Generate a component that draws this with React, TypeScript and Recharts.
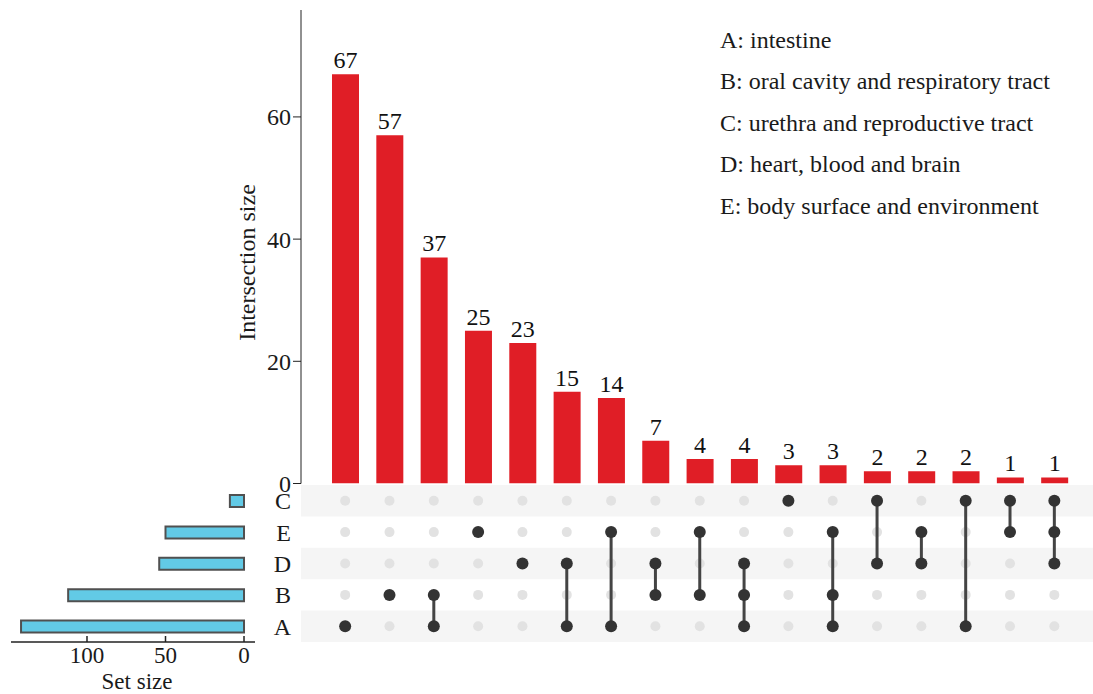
import React from 'react';
import {
  BarChart,
  Bar,
  XAxis,
  YAxis,
  LabelList,
  Label,
  ScatterChart,
  Scatter,
  ReferenceArea,
} from 'recharts';

// ---------- data ----------
const COMBINATIONS = ['A', 'B', 'A&B', 'E', 'D', 'A&D', 'A&E', 'B&D', 'B&E', 'A&B&D', 'C', 'A&B&E', 'C&D', 'D&E', 'A&C', 'C&E', 'C&D&E'];
const INTERSECTION_SIZES = [67, 57, 37, 25, 23, 15, 14, 7, 4, 4, 3, 3, 2, 2, 2, 1, 1];
const SET_ROWS = ['C', 'E', 'D', 'B', 'A']; // top to bottom
const SET_SIZES = [9, 50, 54, 112, 142];
const INTERSECTION_TICKS = [0, 20, 40, 60];
const SET_SIZE_TICKS = [0, 50, 100];
const LEGEND_LABELS = [
  'A: intestine',
  'B: oral cavity and respiratory tract',
  'C: urethra and reproductive tract',
  'D: heart, blood and brain',
  'E: body surface and environment',
];

// ---------- layout / style ----------
const W = 1093;
const H = 694;
const FONT = '"Liberation Serif", "Times New Roman", Times, serif';
const RED = '#e01e26';
const BLUE = '#62cae6';
const PLOT_L = 301;
const PLOT_R = 1093;
const TOP_Y = 10;
const BASE_Y = 483.5;
const MAT_TOP = 485;
const MAT_BOT = 642;
const PAD_L = 22;
const PAD_R = 16.5;
const N = COMBINATIONS.length;
const BAND = (PLOT_R - PLOT_L - PAD_L - PAD_R) / N;
const X_DOMAIN: [number, number] = [-0.5 - PAD_L / BAND, N - 0.5 + PAD_R / BAND];
const SET_AXIS_L = 11;
const SET_AXIS_R = 255;

// bottom-up row index for matrix
const rowIndex = (s: string) => SET_ROWS.length - 1 - SET_ROWS.indexOf(s);

const barData = COMBINATIONS.map((c, i) => ({ combo: c, size: INTERSECTION_SIZES[i] }));
const setData = SET_ROWS.map((s, i) => ({ set: s, size: SET_SIZES[i] }));

const inactivePoints: { x: number; y: number }[] = [];
const activeColumns: { x: number; y: number }[][] = [];
COMBINATIONS.forEach((c, i) => {
  const members = c.split('&');
  SET_ROWS.forEach((s) => {
    if (!members.includes(s)) inactivePoints.push({ x: i, y: rowIndex(s) });
  });
  activeColumns.push(
    members.map((s) => ({ x: i, y: rowIndex(s) })).sort((a, b) => a.y - b.y)
  );
});

const stripeRows = SET_ROWS.map((s) => rowIndex(s)).filter((r) => r % 2 === 0);

const InactiveDot = (props: any) => (
  <circle cx={props.cx} cy={props.cy} r={5} fill="#e2e2e2" />
);
const ActiveDot = (props: any) => (
  <circle cx={props.cx} cy={props.cy} r={6} fill="#333333" />
);

const textStyle = { fontSize: 24, fontFamily: FONT, fill: '#1a1a1a' };
const smallTextStyle = { ...textStyle, fontSize: 23 };

export default function App() {
  return (
    <div style={{ position: 'absolute', left: 0, top: 0, width: W, height: H, background: '#fff', overflow: 'hidden' }}>
      {/* Intersection size bars */}
      <div style={{ position: 'absolute', left: 0, top: 0 }}>
        <BarChart
          width={W}
          height={H}
          data={barData}
          margin={{ top: TOP_Y, right: W - PLOT_R, bottom: H - BASE_Y, left: PLOT_L - 60 }}
        >
          <XAxis
            dataKey="combo"
            type="category"
            padding={{ left: PAD_L, right: PAD_R }}
            tick={false}
            tickLine={false}
            axisLine={{ stroke: '#444', strokeWidth: 2 }}
            height={0}
          />
          <YAxis
            type="number"
            domain={[0, 77.5]}
            ticks={INTERSECTION_TICKS}
            interval={0}
            allowDataOverflow
            width={60}
            tickSize={8}
            tickMargin={2}
            tick={textStyle}
            axisLine={{ stroke: '#222', strokeWidth: 1 }}
            tickLine={{ stroke: '#222', strokeWidth: 1 }}
          >
            <Label
              content={() => (
                <text
                  x={255}
                  y={262.5}
                  transform="rotate(-90 255 262.5)"
                  textAnchor="middle"
                  style={textStyle}
                >
                  Intersection size
                </text>
              )}
            />
          </YAxis>
          <Bar dataKey="size" fill={RED} barSize={27} isAnimationActive={false}>
            <LabelList dataKey="size" position="top" offset={6} style={{ ...textStyle, fill: '#111' }} />
          </Bar>
        </BarChart>
      </div>

      {/* Matrix */}
      <div style={{ position: 'absolute', left: 0, top: 0 }}>
        <ScatterChart
          width={W}
          height={H}
          margin={{ top: MAT_TOP, right: W - PLOT_R, bottom: H - MAT_BOT, left: PLOT_L - 40 }}
        >
          <XAxis type="number" dataKey="x" domain={X_DOMAIN} allowDataOverflow hide />
          <YAxis
            type="number"
            dataKey="y"
            domain={[-0.5, SET_ROWS.length - 0.5]}
            ticks={[0, 1, 2, 3, 4]}
            interval={0}
            allowDataOverflow
            width={40}
            axisLine={false}
            tickLine={false}
            tickSize={0}
            tickMargin={10}
            tick={textStyle}
            tickFormatter={(v: number) => SET_ROWS[SET_ROWS.length - 1 - v]}
          />
          {stripeRows.map((r) => (
            <ReferenceArea
              key={r}
              y1={r - 0.5}
              y2={r + 0.5}
              fill="#f5f5f5"
              fillOpacity={1}
              stroke="none"
              ifOverflow="visible"
            />
          ))}
          <Scatter data={inactivePoints} shape={InactiveDot} isAnimationActive={false} />
          {activeColumns.map((pts, i) => (
            <Scatter
              key={i}
              data={pts}
              line={{ stroke: '#444', strokeWidth: 3 }}
              shape={ActiveDot}
              isAnimationActive={false}
            />
          ))}
        </ScatterChart>
      </div>

      {/* Set size bars */}
      <div style={{ position: 'absolute', left: 0, top: 0 }}>
        <BarChart
          layout="vertical"
          width={W}
          height={H}
          data={setData}
          margin={{ top: MAT_TOP, right: W - SET_AXIS_R, bottom: H - MAT_BOT - 40, left: SET_AXIS_L }}
        >
          <XAxis
            type="number"
            dataKey="size"
            domain={[-7, 148.4]}
            ticks={SET_SIZE_TICKS}
            interval={0}
            allowDataOverflow
            reversed
            height={40}
            tickSize={-6}
            tickMargin={11}
            tick={smallTextStyle}
            axisLine={{ stroke: '#222', strokeWidth: 1.5 }}
            tickLine={{ stroke: '#222', strokeWidth: 1.5 }}
          >
            <Label
              content={() => (
                <text x={137} y={689} textAnchor="middle" style={smallTextStyle}>
                  Set size
                </text>
              )}
            />
          </XAxis>
          <YAxis type="category" dataKey="set" hide width={0} />
          <Bar
            dataKey="size"
            fill={BLUE}
            stroke="#505050"
            strokeWidth={2}
            barSize={12}
            isAnimationActive={false}
          />
        </BarChart>
      </div>

      {/* Legend text */}
      <svg
        width={W}
        height={H}
        style={{ position: 'absolute', left: 0, top: 0, pointerEvents: 'none' }}
      >
        {LEGEND_LABELS.map((t, i) => (
          <text key={t} x={720} y={47.5 + 41.5 * i} style={textStyle}>
            {t}
          </text>
        ))}
      </svg>
    </div>
  );
}
